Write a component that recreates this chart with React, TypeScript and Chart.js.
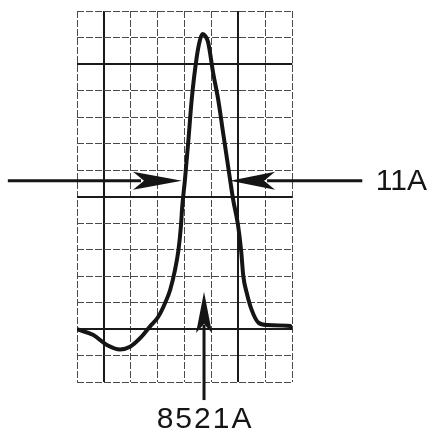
import React, { useEffect, useRef } from "react";
import { Chart, registerables } from "chart.js";

Chart.register(...registerables);

// Wavelength axis in grid divisions (0..8), intensity in grid divisions (0..14)
const wavelength = [0, 0.61, 1.11, 1.6, 1.97, 2.4, 2.71, 3.02, 3.27, 3.46, 3.64, 3.77, 3.86, 3.91, 4.01, 4.14, 4.26, 4.45, 4.57, 4.67, 4.77, 4.87, 5.06, 5.25, 5.43, 5.69, 5.8, 5.98, 6.1, 6.18, 6.31, 6.49, 6.74, 7.05, 7.92, 8.0];
const intensity = [2.0, 1.78, 1.41, 1.24, 1.34, 1.72, 2.1, 2.47, 2.98, 3.48, 4.23, 4.99, 5.87, 6.62, 7.63, 9.14, 10.64, 12.27, 12.91, 13.13, 13.05, 12.83, 11.66, 10.64, 9.4, 7.63, 6.9, 5.95, 4.95, 4.0, 3.36, 2.73, 2.25, 2.16, 2.12, 2.04];

const xRange = [0, 8];
const yRange = [0, 14];
const boldX = [1, 6];
const boldY = [2, 7, 12];

// Annotations (data units)
const fwhmLevel = 7.6;
const leftArrow = [-2.57, 2.08, 3.9]; // start, head back, tip
const rightArrow = [10.6, 7.36, 5.69]; // start, head back, tip
const centerArrowX = 4.72;
const centerArrow = [-0.67, 1.86, 3.41]; // start, head back, tip
const widthLabel = "11A";
const lineLabel = "8521A";

export default function App() {
  const ref = useRef<HTMLCanvasElement | null>(null);

  useEffect(() => {
    if (!ref.current) return;
    const annot = {
      id: "annot",
      afterDraw(chart: any) {
        const { ctx } = chart;
        const xs = chart.scales.x;
        const ys = chart.scales.y;
        ctx.save();
        ctx.strokeStyle = "#151515";
        ctx.fillStyle = "#151515";
        ctx.lineWidth = 3;
        ctx.lineCap = "butt";
        const ay = ys.getPixelForValue(fwhmLevel);
        const hh = 9;
        const drawH = (arr: number[], dir: number) => {
          const s = xs.getPixelForValue(arr[0]);
          const b = xs.getPixelForValue(arr[1]);
          const t = xs.getPixelForValue(arr[2]);
          ctx.beginPath();
          ctx.moveTo(s, ay);
          ctx.lineTo(b + dir * 8, ay);
          ctx.stroke();
          ctx.beginPath();
          ctx.moveTo(t, ay);
          ctx.lineTo(b, ay - hh);
          ctx.lineTo(b + dir * 11, ay);
          ctx.lineTo(b, ay + hh);
          ctx.closePath();
          ctx.fill();
        };
        drawH(leftArrow, 1);
        drawH(rightArrow, -1);
        // vertical arrow
        const vx = xs.getPixelForValue(centerArrowX);
        const vs = ys.getPixelForValue(centerArrow[0]);
        const vb = ys.getPixelForValue(centerArrow[1]);
        const vt = ys.getPixelForValue(centerArrow[2]);
        ctx.beginPath();
        ctx.moveTo(vx, vs);
        ctx.lineTo(vx, vb - 8);
        ctx.stroke();
        ctx.beginPath();
        ctx.moveTo(vx, vt);
        ctx.lineTo(vx - 8, vb);
        ctx.lineTo(vx, vb - 9);
        ctx.lineTo(vx + 8, vb);
        ctx.closePath();
        ctx.fill();
        // labels
        ctx.font = "30px 'Liberation Sans', sans-serif";
        ctx.textBaseline = "middle";
        ctx.textAlign = "right";
        ctx.fillText(widthLabel, 427, ay + 1);
        (ctx as any).letterSpacing = "2px";
        ctx.textAlign = "center";
        ctx.fillText(lineLabel, vx + 1, vs + 20);
        ctx.restore();
      },
    };

    const chart = new Chart(ref.current, {
      type: "line",
      data: {
        datasets: [
          {
            data: wavelength.map((w, i) => ({ x: w, y: intensity[i] })),
            borderColor: "#151515",
            borderWidth: 4,
            pointRadius: 0,
            cubicInterpolationMode: "monotone",
            fill: false,
          },
        ],
      },
      options: {
        animation: false,
        responsive: false,
        events: [],
        layout: { padding: { left: 77, top: 11, right: 137.7, bottom: 49.7 } },
        plugins: { legend: { display: false }, tooltip: { enabled: false } },
        scales: {
          x: {
            type: "linear",
            min: xRange[0],
            max: xRange[1],
            ticks: { display: false, stepSize: 1 },
            grid: { color: "#4a4a4a", lineWidth: 1, drawTicks: false },
            border: { display: false, dash: [7, 2] },
          },
          x2: {
            type: "linear",
            position: "bottom",
            min: xRange[0],
            max: xRange[1],
            afterBuildTicks: (s: any) => {
              s.ticks = boldX.map((v) => ({ value: v }));
            },
            ticks: { display: false },
            grid: { color: "#1a1a1a", lineWidth: 2, drawTicks: false },
            border: { display: false },
          },
          y: {
            type: "linear",
            min: yRange[0],
            max: yRange[1],
            ticks: { display: false, stepSize: 1 },
            grid: { color: "#4a4a4a", lineWidth: 1, drawTicks: false },
            border: { display: false, dash: [7, 2] },
          },
          y2: {
            type: "linear",
            position: "left",
            min: yRange[0],
            max: yRange[1],
            afterBuildTicks: (s: any) => {
              s.ticks = boldY.map((v) => ({ value: v }));
            },
            ticks: { display: false },
            grid: { color: "#1a1a1a", lineWidth: 2, drawTicks: false },
            border: { display: false },
          },
        },
      } as any,
      plugins: [annot],
    });
    return () => chart.destroy();
  }, []);

  return (
    <div style={{ position: "absolute", left: 0, top: 0, width: 430, height: 432, background: "#fff" }}>
      <canvas ref={ref} width={430} height={432} style={{ display: "block" }} />
    </div>
  );
}
